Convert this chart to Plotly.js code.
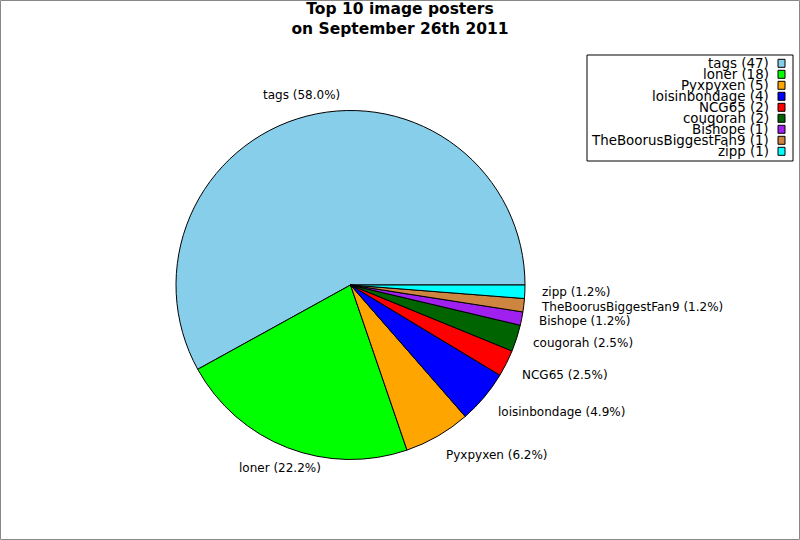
<!DOCTYPE html>
<html>
<head>
<meta charset="utf-8">
<script src="https://cdn.plot.ly/plotly-3.0.1.min.js"></script>
<style>html,body{margin:0;padding:0;background:#fff;}#chart{width:800px;height:540px;}</style>
</head>
<body>
<div id="chart"></div>
<script>
const categories = ['tags', 'loner', 'Pyxpyxen', 'loisinbondage', 'NCG65', 'cougorah', 'Bishope', 'TheBoorusBiggestFan9', 'zipp'];
const counts = [47, 18, 5, 4, 2, 2, 1, 1, 1];
const colors = ['#87CEEB', '#00FF00', '#FFA500', '#0000FF', '#FF0000', '#006400', '#A020F0', '#CD853F', '#00FFFF'];
const titleLines = ['Top 10 image posters', 'on September 26th 2011'];

const W = 800, H = 540;
const cx = 350.5, cy = 285, R = 174.5;
const FONT = 'DejaVu Sans';

const total = counts.reduce((a, b) => a + b, 0);
const annotations = [];
const shapes = [];

// slice labels at 1.1 R, computed from the data (first slice starts at 3 o'clock, counterclockwise)
let cum = 0;
counts.forEach((v, i) => {
  const mid = (cum + v / 2) / total * 2 * Math.PI;
  cum += v;
  const lx = cx + 1.1 * R * Math.cos(mid);
  const ly = cy - 1.1 * R * Math.sin(mid);
  const pct = (v / total * 100).toFixed(1);
  const right = Math.cos(mid) > 0;
  annotations.push({
    xref: 'paper', yref: 'paper',
    x: lx / W, y: 1 - ly / H,
    xanchor: right ? 'left' : 'center',
    yanchor: 'middle',
    xshift: right ? -2 : -1,
    yshift: Math.sin(mid) > 0.5 ? 4.5 : (Math.sin(mid) < -0.4 ? -3.5 : 0.5),
    text: categories[i] + ' (' + pct + '%)',
    showarrow: false,
    font: {family: FONT, size: 12, color: '#000'}
  });
});

// legend (text right, swatch on the right side)
const legL = 587, legR = 793, legT = 55, legB = 161;
shapes.push({type: 'rect', xref: 'paper', yref: 'paper',
  x0: legL / W, x1: legR / W, y0: 1 - legB / H, y1: 1 - legT / H,
  line: {color: '#000', width: 1}, fillcolor: '#fff'});
categories.forEach((c, i) => {
  const yc = 63.3 + 11 * i;
  annotations.push({
    xref: 'paper', yref: 'paper',
    x: 771 / W, y: 1 - yc / H,
    xanchor: 'right', yanchor: 'middle',
    text: c + ' (' + counts[i] + ')',
    showarrow: false,
    font: {family: FONT, size: 13.4, color: '#000'}
  });
  shapes.push({type: 'rect', xref: 'paper', yref: 'paper',
    x0: 778 / W, x1: 785 / W, y0: 1 - (yc + 4) / H, y1: 1 - (yc - 4) / H,
    line: {color: '#000', width: 1}, fillcolor: colors[i]});
});

// figure border
shapes.push({type: 'rect', xref: 'paper', yref: 'paper',
  x0: 0.5 / W, x1: 1 - 0.5 / W, y0: 0.5 / H, y1: 1 - 0.5 / H,
  line: {color: '#888', width: 1}});

const trace = {
  type: 'pie',
  labels: categories,
  values: counts,
  sort: false,
  direction: 'counterclockwise',
  // plotly (ccw): first slice spans [rotation, rotation + share] clockwise from 12 o'clock
  rotation: 90 - counts[0] / total * 360,
  textinfo: 'none',
  hoverinfo: 'label+value+percent',
  marker: {colors: colors, line: {color: '#000', width: 1}},
  domain: {x: [(cx - R) / W, (cx + R) / W], y: [(H - cy - R) / H, (H - cy + R) / H]}
};

const layout = {
  width: W, height: H,
  margin: {l: 0, r: 0, t: 0, b: 0},
  paper_bgcolor: '#fff',
  showlegend: false,
  title: {text: titleLines.join('<br>'), x: 0.5, xanchor: 'center', y: 1 - 13.5 / H, yanchor: 'middle',
    font: {family: FONT, size: 15.5, color: '#000', weight: 'bold'}},
  annotations: annotations,
  shapes: shapes
};

Plotly.newPlot('chart', [trace], layout, {displayModeBar: false, staticPlot: true});
</script>
</body>
</html>
